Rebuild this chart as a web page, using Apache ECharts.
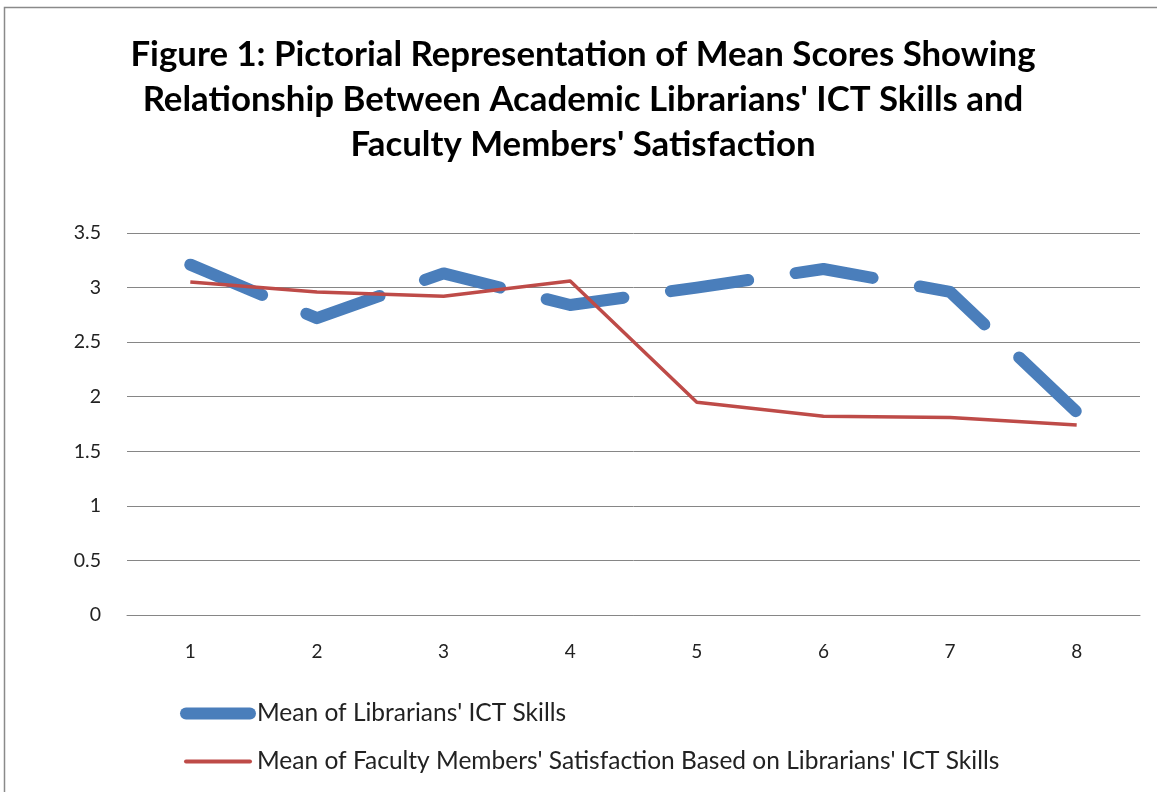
<!DOCTYPE html>
<html>
<head>
<meta charset="utf-8">
<script src="https://cdn.jsdelivr.net/npm/echarts@6/dist/echarts.min.js"></script>
<style>
  html, body { margin: 0; padding: 0; background: #fff; }
  #chart { width: 1157px; height: 792px; }
</style>
</head>
<body>
<div id="chart"></div>
<script>
const categories = ['1', '2', '3', '4', '5', '6', '7', '8']
const librariansSkills = [3.21, 2.72, 3.13, 2.84, 3.0, 3.17, 2.96, 1.86]
const facultySatisfaction = [3.05, 2.96, 2.92, 3.06, 1.95, 1.82, 1.81, 1.74]
const seriesNames = [
  "Mean of Librarians' ICT Skills",
  "Mean of Faculty Members' Satisfaction Based on Librarians' ICT Skills",
]
const titleText = "Figure 1: Pictorial Representation of Mean Scores Showing\nRelationship Between Academic Librarians' ICT Skills and\nFaculty Members' Satisfaction"

const font = 'Lato, "Open Sans", sans-serif'
const chart = echarts.init(document.getElementById('chart'), null, { renderer: 'canvas' })

chart.setOption({
  animation: false,
  backgroundColor: '#fff',
  graphic: [
    {
      type: 'rect',
      shape: { x: 4.5, y: 7.5, width: 1200, height: 820 },
      style: { fill: 'none', stroke: '#8a8a8a', lineWidth: 1.5 },
      silent: true,
    },
  ],
  title: {
    text: titleText,
    left: 578,
    top: 27,
    textAlign: 'center',
    textStyle: { fontFamily: font, fontSize: 34.8, fontWeight: 'bold', color: '#000', lineHeight: 45 },
  },
  grid: { left: 127, right: 17, top: 233, bottom: 177, containLabel: false },
  xAxis: {
    type: 'category',
    data: categories,
    boundaryGap: true,
    axisLine: { lineStyle: { color: '#868686', width: 1 } },
    axisTick: { show: false },
    axisLabel: { color: '#222', fontFamily: font, fontSize: 19, margin: 27 },
  },
  yAxis: {
    type: 'value',
    min: 0,
    max: 3.5,
    interval: 0.5,
    axisLine: { show: false },
    axisTick: { show: false },
    splitLine: { lineStyle: { color: '#868686', width: 1 } },
    axisLabel: { color: '#222', fontFamily: font, fontSize: 19.5, margin: 26 },
  },
  legend: {
    orient: 'vertical',
    left: 180,
    top: 701,
    padding: 0,
    itemWidth: 64,
    itemHeight: 12,
    itemGap: 23,
    selectedMode: false,
    textStyle: { fontFamily: font, fontSize: 24.5, color: '#222', padding: [0, 0, 0, 2] },
    data: [
      { name: seriesNames[0], itemStyle: { opacity: 0 }, lineStyle: { width: 12, type: 'solid', cap: 'round' } },
      { name: seriesNames[1], itemStyle: { opacity: 0 }, lineStyle: { width: 4, type: 'solid', cap: 'round' } },
    ],
  },
  series: [
    {
      name: seriesNames[0],
      type: 'line',
      data: librariansSkills,
      symbol: 'none',
      lineStyle: { color: '#4a7ebb', width: 12, type: [78, 48], cap: 'round', join: 'round' },
      itemStyle: { color: '#4a7ebb' },
      z: 2,
    },
    {
      name: seriesNames[1],
      type: 'line',
      data: facultySatisfaction,
      symbol: 'none',
      lineStyle: { color: '#be4b48', width: 3.5, join: 'round' },
      itemStyle: { color: '#be4b48' },
      z: 3,
    },
  ],
})
</script>
</body>
</html>
